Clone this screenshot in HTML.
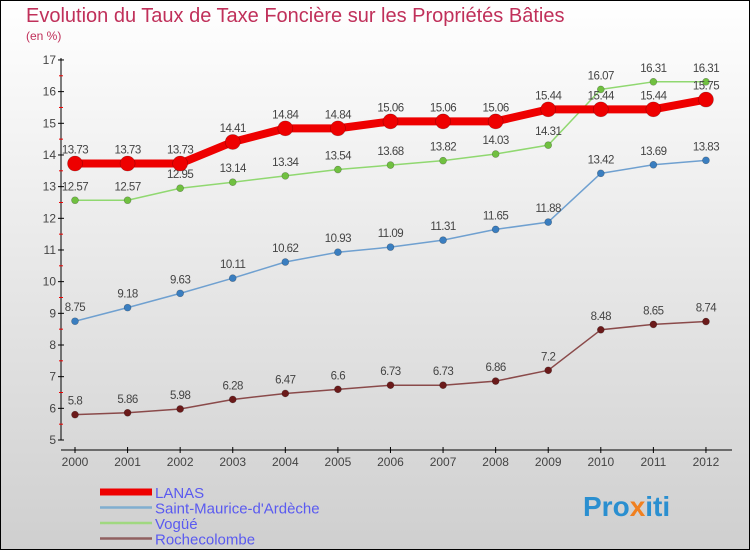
<!DOCTYPE html>
<html><head><meta charset="utf-8"><style>
body{margin:0}
svg{display:block;font-family:"Liberation Sans","DejaVu Sans",sans-serif}
</style></head><body>
<svg id="c" width="750" height="550" xmlns="http://www.w3.org/2000/svg">
<defs><linearGradient id="bg" x1="0" y1="0" x2="0" y2="1"><stop offset="0" stop-color="#ffffff"/><stop offset="1" stop-color="#cfcfcf"/></linearGradient></defs>
<rect x="0.5" y="0.5" width="749" height="549" fill="url(#bg)" stroke="#000"/>
<text x="26" y="22" font-size="20" fill="#c0305a">Evolution du Taux de Taxe Foncière sur les Propriétés Bâties</text>
<text x="26" y="40" font-size="12" fill="#c0305a">(en %)</text>
<g id="axes"></g><g id="series"></g><g id="legend"></g>
<text x="583" y="516" font-size="28" font-weight="bold" fill="#2a8fd0">Pro<tspan fill="#f08020">x</tspan>iti</text>
</svg>
<script>
const years=["2000","2001","2002","2003","2004","2005","2006","2007","2008","2009","2010","2011","2012"];
const lanas=[13.73,13.73,13.73,14.41,14.84,14.84,15.06,15.06,15.06,15.44,15.44,15.44,15.75];
const stMaurice=[8.75,9.18,9.63,10.11,10.62,10.93,11.09,11.31,11.65,11.88,13.42,13.69,13.83];
const vogue=[12.57,12.57,12.95,13.14,13.34,13.54,13.68,13.82,14.03,14.31,16.07,16.31,16.31];
const roche=[5.8,5.86,5.98,6.28,6.47,6.6,6.73,6.73,6.86,7.2,8.48,8.65,8.74];
const yTicks=[5,6,7,8,9,10,11,12,13,14,15,16,17];
const NS="http://www.w3.org/2000/svg";
const X=i=>75+i*52.58, Y=v=>440-(v-5)*31.67;
function mk(p,t,a){const e=document.createElementNS(NS,t);for(const k in a)e.setAttribute(k,a[k]);p.appendChild(e);return e;}
const ax=document.getElementById('axes');
let l=mk(ax,'line',{x1:61,y1:58,x2:61,y2:440,stroke:'#000','stroke-width':1});


l=mk(ax,'line',{x1:61,y1:450,x2:732,y2:450,stroke:'#000','stroke-width':1});


yTicks.forEach(v=>{
 mk(ax,'line',{x1:58,y1:Y(v),x2:64,y2:Y(v),stroke:'#000'});
 if(v<17)mk(ax,'line',{x1:59,y1:Y(v+0.5),x2:63,y2:Y(v+0.5),stroke:'#e00'});
 const t=mk(ax,'text',{x:56,y:Y(v)+4,'font-size':12,'text-anchor':'end',fill:'#444'});t.textContent=v;
 
 
});
years.forEach((y,i)=>{
 mk(ax,'line',{x1:X(i),y1:447,x2:X(i),y2:453,stroke:'#000'});
 const t=mk(ax,'text',{x:X(i),y:466,'font-size':12,'text-anchor':'middle',fill:'#444'});t.textContent=y;
 
 
});
const sg=document.getElementById('series');
function series(d,col,w,r,name,dot){
 const g=mk(sg,'g',{});
 
 
 const p=mk(g,'polyline',{points:d.map((v,i)=>X(i)+','+Y(v)).join(' '),fill:'none',stroke:col,'stroke-width':w,'stroke-linejoin':'round'});
 
 
 d.forEach((v,i)=>{
  const c=mk(g,'circle',{cx:X(i),cy:Y(v),r:r,fill:dot,stroke:'rgba(0,0,0,0.3)','stroke-width':0.6});
  
  
  const t=mk(g,'text',{x:X(i),y:Y(v)-10,'font-size':11.5,'text-anchor':'middle',fill:'#444','letter-spacing':'-0.5'});t.textContent=v;
  
  
 });
}
series(roche,'#8a4a4a',1.5,3.5,'rochecolombe','#6b1a1a');
series(stMaurice,'#6fa0d0',1.5,3.5,'saint-maurice','#3a7ec0');
series(vogue,'#90d870',1.5,3.5,'vogue','#70c040');
series(lanas,'#ee0000',8,7.5,'lanas','#ee0000');
const lg=document.getElementById('legend');
[["LANAS","#ee0000",7],["Saint-Maurice-d'Ardèche","#80aed0",2.5],["Vogüé","#a0d880",2.5],["Rochecolombe","#906060",2.5]].forEach((e,i)=>{
 const y=492+i*15.5;
 const g=mk(lg,'g',{});
 
 
 mk(g,'line',{x1:100,y1:y,x2:152,y2:y,stroke:e[1],'stroke-width':e[2]});
 const t=mk(g,'text',{x:155,y:y+6,'font-size':15,fill:'#5a5af0'});t.textContent=e[0];
});
</script>
</body></html>
